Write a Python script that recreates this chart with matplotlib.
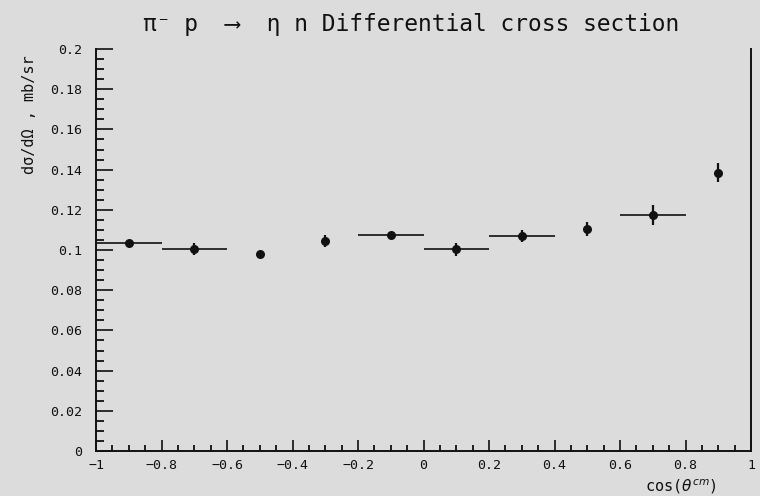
import matplotlib
matplotlib.use("Agg")
import matplotlib.pyplot as plt
from matplotlib.ticker import MultipleLocator, FixedLocator

# cos(theta*) bin centres, half-widths and measured cross sections (mb/sr)
cos_theta = [-0.9, -0.7, -0.5, -0.3, -0.1, 0.1, 0.3, 0.5, 0.7, 0.9]
bin_half_width = [0.1, 0.1, 0.0, 0.0, 0.1, 0.1, 0.1, 0.0, 0.1, 0.0]
dsigma = [0.1036, 0.1003, 0.0982, 0.1043, 0.1073, 0.1003, 0.1071, 0.1104, 0.1174, 0.1385]
dsigma_err = [0.001, 0.003, 0.001, 0.003, 0.001, 0.0033, 0.003, 0.0035, 0.005, 0.0048]

x_ticks = [-1, -0.8, -0.6, -0.4, -0.2, 0, 0.2, 0.4, 0.6, 0.8, 1]
x_tick_labels = ["\u22121", "\u22120.8", "\u22120.6", "\u22120.4", "\u22120.2", "0",
                 "0.2", "0.4", "0.6", "0.8", "1"]
y_ticks = [0, 0.02, 0.04, 0.06, 0.08, 0.1, 0.12, 0.14, 0.16, 0.18, 0.2]
y_tick_labels = ["0", "0.02", "0.04", "0.06", "0.08", "0.1", "0.12", "0.14",
                 "0.16", "0.18", "0.2"]

BG = "#dcdcdc"
INK = "#111111"
MONO = ["DejaVu Sans Mono", "DejaVu Sans"]

fig = plt.figure(figsize=(7.6, 4.96), dpi=100, facecolor=BG)
ax = fig.add_axes([96 / 760, 45 / 496, 655 / 760, 402 / 496])
ax.set_facecolor(BG)

# horizontal bars: bin widths
ax.errorbar(cos_theta, dsigma, xerr=bin_half_width, fmt="none",
            ecolor=INK, elinewidth=1.2, capsize=0)
# vertical bars: statistical errors
ax.errorbar(cos_theta, dsigma, yerr=dsigma_err, fmt="none",
            ecolor=INK, elinewidth=1.6, capsize=0)
ax.plot(cos_theta, dsigma, linestyle="none", marker="o", markersize=6.5,
        color=INK, markeredgewidth=0)

ax.set_xlim(-1, 1)
ax.set_ylim(0, 0.2)

for side in ("left", "bottom", "right"):
    ax.spines[side].set_linewidth(1.4)
    ax.spines[side].set_color(INK)
ax.spines["top"].set_visible(False)

ax.xaxis.set_major_locator(FixedLocator(x_ticks))
ax.xaxis.set_minor_locator(MultipleLocator(0.05))
ax.yaxis.set_major_locator(FixedLocator(y_ticks))
ax.yaxis.set_minor_locator(MultipleLocator(0.005))
ax.set_xticklabels(x_tick_labels, family=MONO, fontsize=9.5, color=INK)
ax.set_yticklabels(y_tick_labels, family=MONO, fontsize=9.5, color=INK)

ax.tick_params(axis="x", which="major", direction="in", length=8, width=1.2,
               pad=6, colors=INK, top=False)
ax.tick_params(axis="x", which="minor", direction="in", length=4, width=1.2,
               top=False)
ax.tick_params(axis="y", which="major", direction="in", length=12, width=1.2,
               pad=10, colors=INK, right=False)
ax.tick_params(axis="y", which="minor", direction="in", length=6, width=1.2,
               right=False)

fig.text(411 / 760, 1 - 24 / 496,
         "\u03c0\u207b p  \u27f6  \u03b7 n Differential cross section",
         ha="center", va="center", fontsize=16.5, family=MONO, color=INK)
fig.text(30 / 760, 1 - 115 / 496, "d\u03c3/d\u03a9 , mb/sr",
         rotation=90, ha="center", va="center", fontsize=11, family=MONO,
         color=INK)
fig.text(717 / 760, 1 - 487 / 496, r"cos($\theta^{cm}$)",
         ha="right", va="center", fontsize=11, family=MONO, color=INK)

fig.savefig("out.png", dpi=100, facecolor=BG)
